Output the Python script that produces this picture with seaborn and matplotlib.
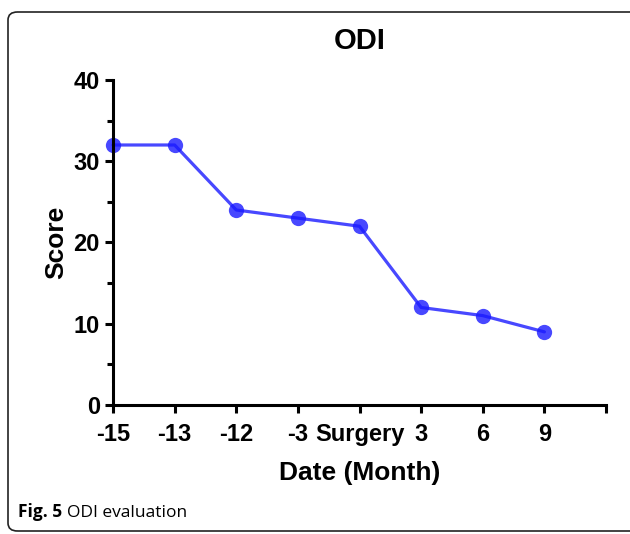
import pandas as pd
import matplotlib.pyplot as plt
import seaborn as sns
from matplotlib.patches import FancyBboxPatch
from matplotlib.ticker import MultipleLocator

dates = ['-15', '-13', '-12', '-3', 'Surgery', '3', '6', '9']
scores = [32, 32, 24, 23, 22, 12, 11, 9]

sns.set_style('ticks')
plt.rcParams['font.family'] = ['Liberation Sans', 'DejaVu Sans']
plt.rcParams['text.color'] = 'black'
plt.rcParams['axes.labelcolor'] = 'black'
plt.rcParams['xtick.color'] = 'black'
plt.rcParams['ytick.color'] = 'black'
plt.rcParams['axes.edgecolor'] = 'black'

df = pd.DataFrame({'pos': range(len(dates)), 'score': scores})

fig = plt.figure(figsize=(6.3, 5.34), dpi=100)
ax = fig.add_axes([0.1794, 0.2416, 0.7825, 0.6086])

sns.lineplot(data=df, x='pos', y='score', ax=ax, color='#1a1aff', alpha=0.8,
             linewidth=2.3, marker='o', markersize=11, markeredgewidth=0,
             clip_on=False)

ax.set_xlim(0, len(dates))
ax.set_ylim(0, 40)
ax.set_xticks(range(len(dates) + 1))
ax.set_xticklabels(dates + [''])
ax.yaxis.set_major_locator(MultipleLocator(10))
ax.yaxis.set_minor_locator(MultipleLocator(5))

for side in ['top', 'right']:
    ax.spines[side].set_visible(False)
for side in ['left', 'bottom']:
    ax.spines[side].set_linewidth(2.2)
ax.tick_params(which='major', width=2.2, length=6, labelsize=17)
ax.tick_params(axis='x', pad=7)
ax.tick_params(which='minor', width=2.2, length=4)
for lbl in ax.get_xticklabels() + ax.get_yticklabels():
    lbl.set_fontweight('bold')

ax.set_title('ODI', fontsize=21, fontweight='bold', pad=22)
ax.set_xlabel('Date (Month)', fontsize=19, fontweight='bold', labelpad=11)
ax.set_ylabel('Score', fontsize=19, fontweight='bold', labelpad=4)

# rounded frame around the whole figure, like the journal layout
frame = FancyBboxPatch((8 / 630, 3 / 534), 640 / 630, 519 / 534,
                       boxstyle='round,pad=0,rounding_size=0.015',
                       transform=fig.transFigure, fill=False,
                       edgecolor='#222222', linewidth=1.2, clip_on=False)
fig.patches.append(frame)

fig.text(18 / 630, 1 - 517 / 534, 'Fig. 5', fontsize=12.5, fontweight='bold',
         family='Open Sans', va='baseline')
fig.text(67 / 630, 1 - 517 / 534, 'ODI evaluation', fontsize=12.5,
         family='Open Sans', va='baseline')

fig.savefig('out.png', dpi=100)
